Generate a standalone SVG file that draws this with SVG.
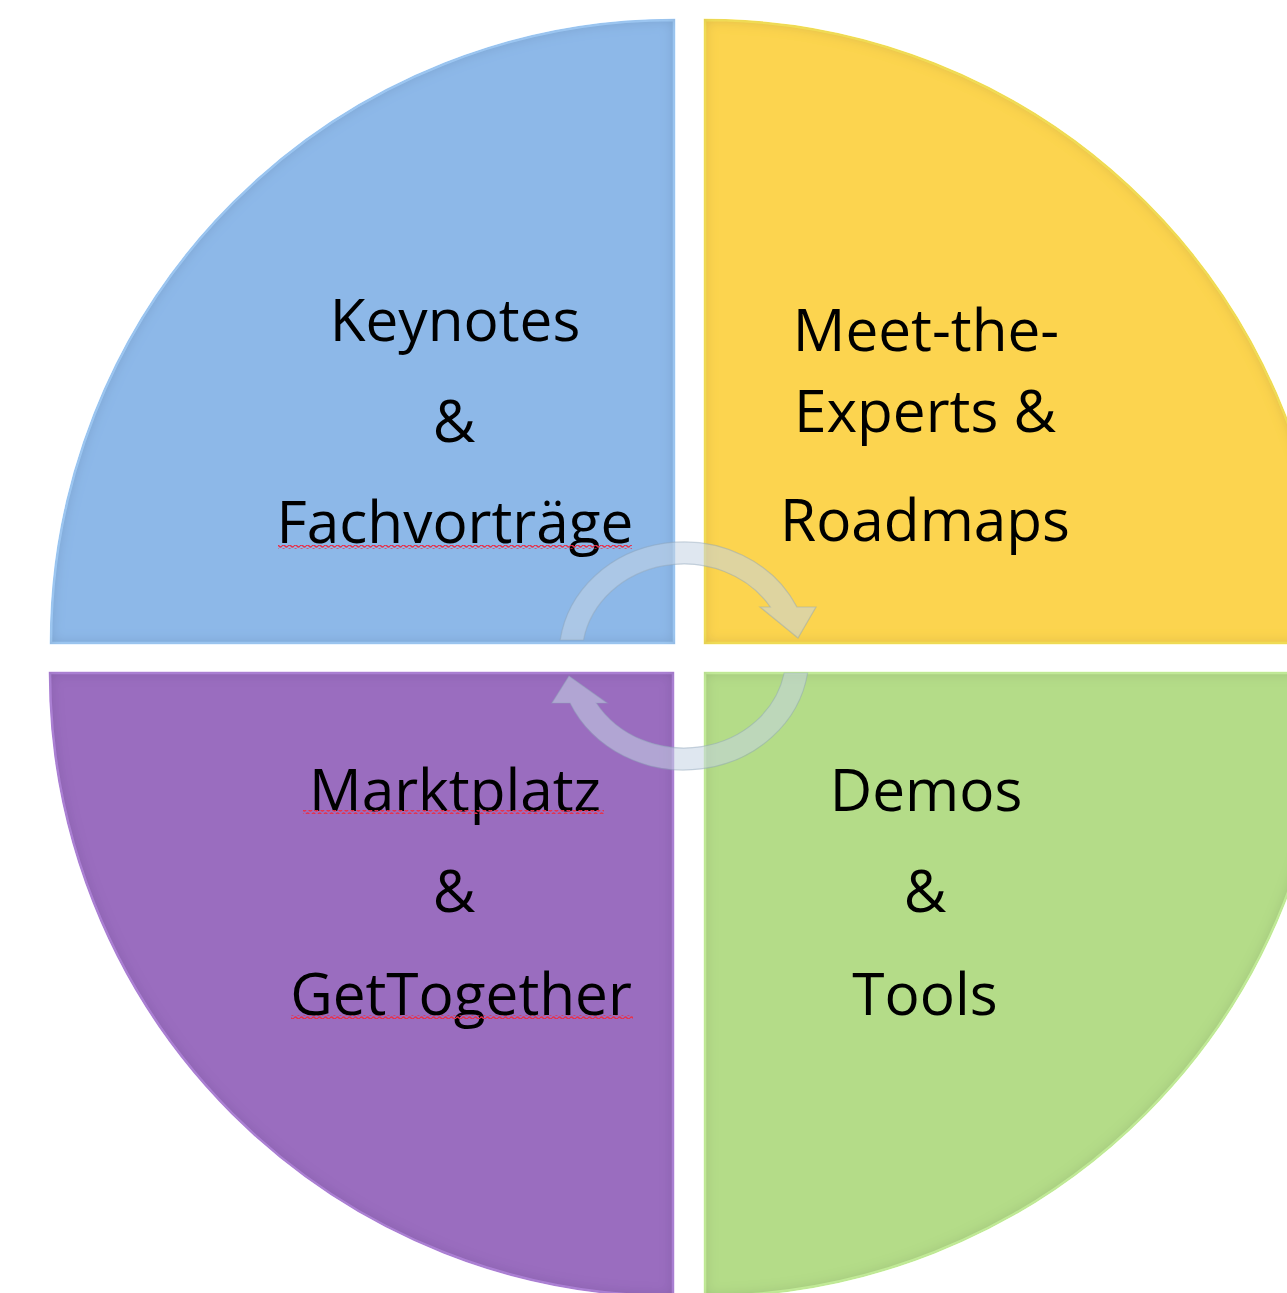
<svg xmlns="http://www.w3.org/2000/svg" width="1287" height="1293" viewBox="0 0 1287 1293">
  <style>
    .lbl { font-family: "Open Sans", "Noto Sans", "Liberation Sans", sans-serif; font-size: 58.5px; fill: #000; text-anchor: middle; }
    .ring { fill: #c4d4e4; fill-opacity: 0.55; stroke: #8fa3b8; stroke-opacity: 0.45; stroke-width: 1.2; }
  </style>
  <defs>
    <filter id="bevel" x="-5%" y="-5%" width="110%" height="110%">
      <feGaussianBlur in="SourceAlpha" stdDeviation="7" result="b"/>
      <feComposite in="SourceAlpha" in2="b" operator="arithmetic" k2="1" k3="-1" result="edge"/>
      <feFlood flood-color="#1a2030" flood-opacity="0.32"/>
      <feComposite in2="edge" operator="in" result="shade"/>
      <feMerge><feMergeNode in="SourceGraphic"/><feMergeNode in="shade"/></feMerge>
    </filter>
    <pattern id="wave" width="6" height="4" patternUnits="userSpaceOnUse">
      <path d="M0,2 Q1.5,0 3,2 T6,2" fill="none" stroke="#e8304a" stroke-width="1.3"/>
    </pattern>
  </defs>
  <rect width="1287" height="1293" fill="#fff"/>

  <g id="node-keynotes">
    <path d="M674,643 L51,643 A623,623 0 0 1 674,20 Z" fill="#8DB8E8" stroke="#a6d2ff" stroke-width="2.5" filter="url(#bevel)"/>
    <text class="lbl" x="455" y="341">Keynotes</text>
    <text class="lbl" x="454" y="442">&amp;</text>
    <text class="lbl" x="455" y="543">Fachvorträge</text>
    <rect x="278" y="545" width="354" height="4" fill="url(#wave)"/>
  </g>

  <g id="node-experts">
    <path d="M705,643 L705,20 A623,623 0 0 1 1328,643 Z" fill="#FCD44F" stroke="#ffe95a" stroke-width="2.5" filter="url(#bevel)"/>
    <text class="lbl" x="926" y="351">Meet-the-</text>
    <text class="lbl" x="925" y="432">Experts &amp;</text>
    <text class="lbl" x="925" y="541">Roadmaps</text>
  </g>

  <g id="node-marktplatz">
    <path d="M673,673 L673,1296 A623,623 0 0 1 50,673 Z" fill="#9A6DBF" stroke="#b688e0" stroke-width="2.5" filter="url(#bevel)"/>
    <text class="lbl" x="455" y="811">Marktplatz</text>
    <text class="lbl" x="454" y="912">&amp;</text>
    <text class="lbl" x="461" y="1015">GetTogether</text>
    <rect x="303" y="810" width="301" height="4" fill="url(#wave)"/>
    <rect x="291" y="1015" width="342" height="4" fill="url(#wave)"/>
  </g>

  <g id="node-demos">
    <path d="M705,673 L1328,673 A623,623 0 0 1 705,1296 Z" fill="#B4DC88" stroke="#cdf8a0" stroke-width="2.5" filter="url(#bevel)"/>
    <text class="lbl" x="926" y="811">Demos</text>
    <text class="lbl" x="925" y="912">&amp;</text>
    <text class="lbl" x="925" y="1015">Tools</text>
  </g>

  <g id="connectors">
    <path class="ring" d="M560.2,640 A125,114 0 0 1 796.9,607 L816,607 L798,638 L760,607 L770.3,607 A102,92 0 0 0 583.5,640 Z"/>
    <path class="ring" d="M807.6,673 A125,114 0 0 1 570.1,703 L552,703 L569,676 L607,703 L596.3,703 A102,92 0 0 0 784.2,673 Z"/>
  </g>
</svg>
